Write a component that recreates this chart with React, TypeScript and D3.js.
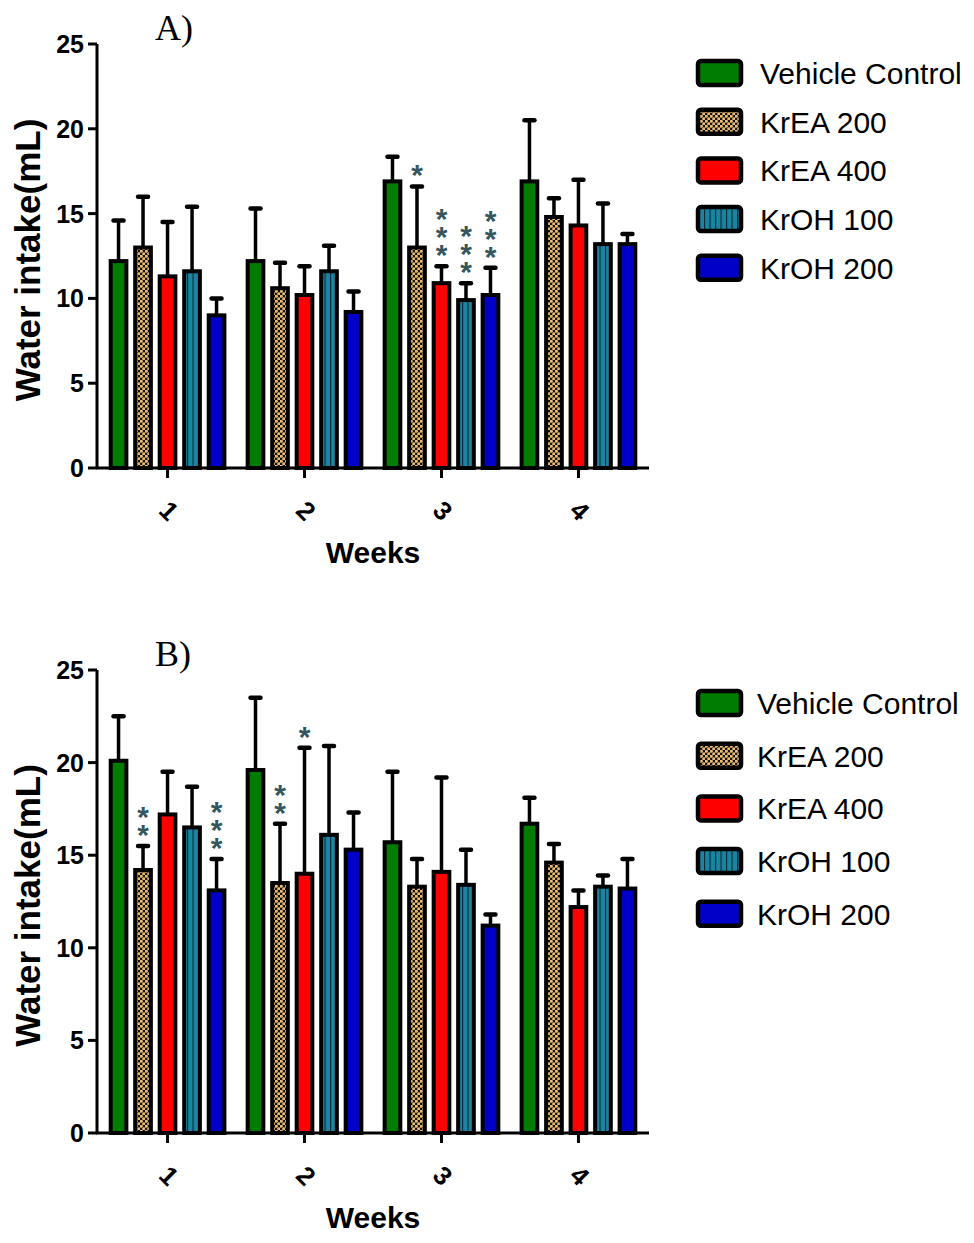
import * as d3 from 'd3';

const weeks = ['1', '2', '3', '4'];
const groups = ['Vehicle Control', 'KrEA 200', 'KrEA 400', 'KrOH 100', 'KrOH 200'];
const yTicks = [0, 5, 10, 15, 20, 25];

// Panel A: means and SEM per week
const vehicleA = [12.2, 12.2, 16.9, 16.9];
const vehicleErrA = [2.4, 3.1, 1.45, 3.6];
const krea200A = [13.0, 10.6, 13.0, 14.8];
const krea200ErrA = [3.0, 1.5, 3.6, 1.1];
const krea400A = [11.3, 10.2, 10.9, 14.3];
const krea400ErrA = [3.2, 1.7, 1.0, 2.7];
const kroh100A = [11.6, 11.6, 9.9, 13.2];
const kroh100ErrA = [3.8, 1.5, 1.0, 2.4];
const kroh200A = [9.0, 9.2, 10.2, 13.2];
const kroh200ErrA = [1.0, 1.2, 1.6, 0.6];
const starsA = [
  { week: '3', group: 'KrEA 200', mark: '*' },
  { week: '3', group: 'KrEA 400', mark: '***' },
  { week: '3', group: 'KrOH 100', mark: '***' },
  { week: '3', group: 'KrOH 200', mark: '***' },
];

// Panel B
const vehicleB = [20.1, 19.6, 15.7, 16.7];
const vehicleErrB = [2.4, 3.9, 3.8, 1.4];
const krea200B = [14.2, 13.5, 13.3, 14.6];
const krea200ErrB = [1.3, 3.2, 1.5, 1.0];
const krea400B = [17.2, 14.0, 14.1, 12.2];
const krea400ErrB = [2.3, 6.8, 5.1, 0.9];
const kroh100B = [16.5, 16.1, 13.4, 13.3];
const kroh100ErrB = [2.2, 4.8, 1.9, 0.6];
const kroh200B = [13.1, 15.3, 11.2, 13.2];
const kroh200ErrB = [1.7, 2.0, 0.6, 1.6];
const starsB = [
  { week: '1', group: 'KrEA 200', mark: '**' },
  { week: '1', group: 'KrOH 200', mark: '***' },
  { week: '2', group: 'KrEA 200', mark: '**' },
  { week: '2', group: 'KrEA 400', mark: '*' },
];

const fills = ['#007c00', 'url(#checker)', '#ff0000', 'url(#stripes)', '#0000c8'];
const sans = '"Liberation Sans", Arial, sans-serif';

function Panel({ title, titleY, top, bottom, means, errs, stars, legendY, legendGap, legendTextX }) {
  const x0 = d3.scaleBand().domain(weeks).range([97, 649]).paddingInner(0.17).paddingOuter(0.1);
  const x1 = d3.scaleBand().domain(groups).range([0, x0.bandwidth()]).paddingInner(0.36);
  const y = d3.scaleLinear().domain([0, 25]).range([bottom, top]);
  const bw = x1.bandwidth();

  const cx = (w, g) => x0(w) + x1(g) + bw / 2;

  return (
    <g>
      <text x={155} y={titleY} fontFamily='"Liberation Serif", "Times New Roman", serif' fontSize={36}>
        {title}
      </text>

      {/* bars + error bars */}
      {groups.map((g, gi) =>
        weeks.map((w, wi) => {
          const v = means[gi][wi];
          const e = errs[gi][wi];
          const c = cx(w, g);
          return (
            <g key={g + w}>
              <line x1={c} x2={c} y1={y(v)} y2={y(v + e)} stroke="#000" strokeWidth={3.5} />
              <line x1={c - 5} x2={c + 5} y1={y(v + e)} y2={y(v + e)} stroke="#000" strokeWidth={4.5} strokeLinecap="round" />
              <rect x={x0(w) + x1(g)} y={y(v)} width={bw} height={bottom - y(v)} fill={fills[gi]} stroke="#000" strokeWidth={4} />
            </g>
          );
        })
      )}

      {/* significance marks, one stacked text per bar */}
      {stars.map((s) => {
        const gi = groups.indexOf(s.group);
        const wi = weeks.indexOf(s.week);
        const capY = y(means[gi][wi] + errs[gi][wi]);
        const n = s.mark.length;
        const c = cx(s.week, s.group);
        return (
          <text key={s.week + s.group} x={c} y={capY - 18 - (n - 1) * 18 + 17}
            textAnchor="middle" fontFamily={sans} fontWeight="bold" fontSize={30} fill="#34565c">
            {s.mark.split('').map((m, i) => (
              <tspan key={i} x={c} dy={i === 0 ? 0 : 18}>{m}</tspan>
            ))}
          </text>
        );
      })}

      {/* y axis */}
      <line x1={97} x2={97} y1={y(25)} y2={bottom} stroke="#000" strokeWidth={3} />
      {yTicks.map((t) => (
        <g key={t}>
          <line x1={88} x2={97} y1={y(t)} y2={y(t)} stroke="#000" strokeWidth={3} />
          <text x={84} y={y(t)} dy="0.36em" textAnchor="end" fontFamily={sans} fontWeight="bold" fontSize={25}>
            {t}
          </text>
        </g>
      ))}
      <text transform={`translate(40,${(top + bottom) / 2 + 4}) rotate(-90)`} textAnchor="middle"
        fontFamily={sans} fontWeight="bold" fontSize={35}>
        Water intake(mL)
      </text>

      {/* x axis */}
      <line x1={96} x2={649} y1={bottom} y2={bottom} stroke="#000" strokeWidth={3} />
      {weeks.map((w) => {
        const c = x0(w) + x0.bandwidth() / 2;
        return (
          <g key={w}>
            <line x1={c} x2={c} y1={bottom} y2={bottom + 10} stroke="#000" strokeWidth={3} />
            <text transform={`translate(${c - 5},${bottom + 49}) rotate(45)`} textAnchor="middle"
              fontFamily={sans} fontWeight="bold" fontSize={26}>
              {w}
            </text>
          </g>
        );
      })}
      <text x={373} y={bottom + 95} textAnchor="middle" fontFamily={sans} fontWeight="bold" fontSize={30}>
        Weeks
      </text>

      {/* legend */}
      {groups.map((g, gi) => {
        const ly = legendY + gi * legendGap;
        return (
          <g key={g}>
            <rect x={698} y={ly - 12} width={43} height={24} rx={3} fill={fills[gi]} stroke="#000" strokeWidth={4.5} />
            <text x={legendTextX} y={ly} dy="0.36em" fontFamily={sans} fontSize={30}>
              {g}
            </text>
          </g>
        );
      })}
    </g>
  );
}

export default function App() {
  const meansA = [vehicleA, krea200A, krea400A, kroh100A, kroh200A];
  const errsA = [vehicleErrA, krea200ErrA, krea400ErrA, kroh100ErrA, kroh200ErrA];
  const meansB = [vehicleB, krea200B, krea400B, kroh100B, kroh200B];
  const errsB = [vehicleErrB, krea200ErrB, krea400ErrB, kroh100ErrB, kroh200ErrB];

  return (
    <svg width={974} height={1243} style={{ position: 'absolute', left: 0, top: 0, background: '#fff' }}>
      <defs>
        <pattern id="checker" width={5} height={5} patternUnits="userSpaceOnUse">
          <rect width={5} height={5} fill="#111" />
          <circle cx={1.25} cy={1.25} r={1.6} fill="#eabb6c" />
          <circle cx={3.75} cy={3.75} r={1.6} fill="#eabb6c" />
        </pattern>
        <pattern id="stripes" width={5.5} height={5} patternUnits="userSpaceOnUse">
          <rect width={5.5} height={5} fill="#1b84a3" />
          <rect x={0} width={1.1} height={5} fill="#0a2a33" />
        </pattern>
      </defs>
      <Panel title="A)" titleY={40} top={44} bottom={468} means={meansA} errs={errsA} stars={starsA}
        legendY={73} legendGap={48.7} legendTextX={760} />
      <Panel title="B)" titleY={666} top={670} bottom={1133} means={meansB} errs={errsB} stars={starsB}
        legendY={703} legendGap={52.7} legendTextX={757} />
    </svg>
  );
}
